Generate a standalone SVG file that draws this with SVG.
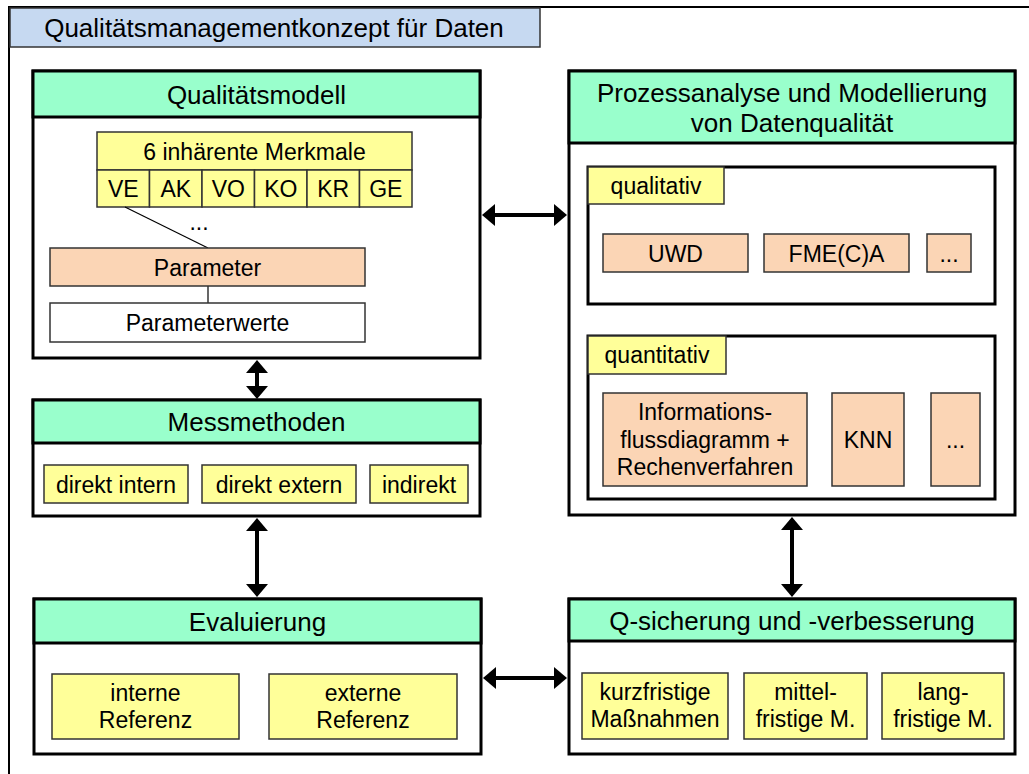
<svg xmlns="http://www.w3.org/2000/svg" width="1029" height="774" viewBox="0 0 1029 774">
<defs>
<style>
text{font-family:"Liberation Sans",Arial,sans-serif;fill:#000;text-anchor:middle}
.h{font-size:26px}
.t{font-size:23px}
.big{fill:#fff;stroke:#000;stroke-width:3}
.hdr{fill:#99FFCC;stroke:#000;stroke-width:3}
.y{fill:#FFFF99;stroke:#333;stroke-width:1.5}
.p{fill:#FBD5B5;stroke:#333;stroke-width:1.5}
.w{fill:#fff;stroke:#333;stroke-width:1.5}
.grp{fill:#fff;stroke:#000;stroke-width:3}
.thin{stroke:#000;stroke-width:1.2;fill:none}
.arr{stroke:#000;stroke-width:4;fill:none;marker-start:url(#ah);marker-end:url(#ah)}
</style>
<marker id="ah" markerUnits="userSpaceOnUse" markerWidth="13" markerHeight="22" refX="0" refY="11" orient="auto-start-reverse" viewBox="0 0 13 22">
<path d="M0,0 L13,11 L0,22 Z" fill="#000"/>
</marker>
</defs>
<rect x="0" y="0" width="1029" height="774" fill="#fff"/>
<g id="frame">
<rect x="9" y="7" width="1040" height="790" fill="none" stroke="#000" stroke-width="2"/>
<rect x="10" y="8" width="530" height="39" fill="#C6D9F1" stroke="#333" stroke-width="1.5"/>
<text class="h" x="274" y="36.5">Qualitätsmanagementkonzept für Daten</text>
</g>
<g id="qualitaetsmodell">
<rect class="big" x="33" y="71" width="447" height="287"/>
<rect class="hdr" x="33" y="71" width="447" height="46"/>
<text class="h" x="256.5" y="103.5">Qualitätsmodell</text>
<rect class="y" x="97" y="132" width="315" height="38"/>
<text class="t" x="254.5" y="159.5">6 inhärente Merkmale</text>
<rect class="y" x="97" y="170" width="52.5" height="37"/>
<rect class="y" x="149.5" y="170" width="52.5" height="37"/>
<rect class="y" x="202" y="170" width="52.5" height="37"/>
<rect class="y" x="254.5" y="170" width="52.5" height="37"/>
<rect class="y" x="307" y="170" width="52.5" height="37"/>
<rect class="y" x="359.5" y="170" width="52.5" height="37"/>
<text class="t" x="123.25" y="196.5">VE</text>
<text class="t" x="175.75" y="196.5">AK</text>
<text class="t" x="228.25" y="196.5">VO</text>
<text class="t" x="280.75" y="196.5">KO</text>
<text class="t" x="333.25" y="196.5">KR</text>
<text class="t" x="385.75" y="196.5">GE</text>
<line class="thin" x1="125" y1="207" x2="208" y2="248"/>
<text class="t" x="199" y="230">...</text>
<line class="thin" x1="208" y1="286" x2="208" y2="303"/>
<rect class="p" x="50" y="248" width="315" height="38"/>
<text class="t" x="207.5" y="275.5">Parameter</text>
<rect class="w" x="50" y="303" width="315" height="39"/>
<text class="t" x="207.5" y="331">Parameterwerte</text>
</g>
<g id="messmethoden">
<rect class="big" x="33" y="400" width="447" height="116"/>
<rect class="hdr" x="33" y="400" width="447" height="43"/>
<text class="h" x="256.5" y="430.5">Messmethoden</text>
<rect class="y" x="44" y="465" width="144" height="38"/>
<text class="t" x="116" y="492.5">direkt intern</text>
<rect class="y" x="202" y="465" width="154" height="38"/>
<text class="t" x="279" y="492.5">direkt extern</text>
<rect class="y" x="370" y="465" width="98" height="38"/>
<text class="t" x="419" y="492.5">indirekt</text>
</g>
<g id="evaluierung">
<rect class="big" x="34" y="599" width="447" height="155"/>
<rect class="hdr" x="34" y="599" width="447" height="44"/>
<text class="h" x="257.5" y="630.5">Evaluierung</text>
<rect class="y" x="52" y="674" width="187" height="65"/>
<text class="t" x="145.5" y="701">interne</text>
<text class="t" x="145.5" y="728">Referenz</text>
<rect class="y" x="269" y="674" width="188" height="65"/>
<text class="t" x="363" y="701">externe</text>
<text class="t" x="363" y="728">Referenz</text>
</g>
<g id="prozessanalyse">
<rect class="big" x="569" y="71" width="446" height="444"/>
<rect class="hdr" x="569" y="71" width="446" height="72"/>
<text class="h" x="792" y="102">Prozessanalyse und Modellierung</text>
<text class="h" x="792" y="131.5">von Datenqualität</text>
<rect class="grp" x="588" y="167" width="407" height="137"/>
<rect class="y" x="588" y="167" width="136" height="37"/>
<text class="t" x="656" y="193.5">qualitativ</text>
<rect class="p" x="603" y="234" width="145" height="38"/>
<text class="t" x="675.5" y="261.5">UWD</text>
<rect class="p" x="764" y="234" width="145" height="38"/>
<text class="t" x="836.5" y="261.5">FME(C)A</text>
<rect class="p" x="927" y="234" width="44" height="38"/>
<text class="t" x="949" y="261.5">...</text>
<rect class="grp" x="588" y="336" width="407" height="163"/>
<rect class="y" x="588" y="336" width="138" height="38"/>
<text class="t" x="657" y="363">quantitativ</text>
<rect class="p" x="603" y="393" width="204" height="93"/>
<text class="t" x="705" y="420">Informations-</text>
<text class="t" x="705" y="447.5">flussdiagramm +</text>
<text class="t" x="705" y="475">Rechenverfahren</text>
<rect class="p" x="832" y="393" width="72" height="93"/>
<text class="t" x="868" y="447.5">KNN</text>
<rect class="p" x="931" y="393" width="49" height="93"/>
<text class="t" x="955.5" y="447.5">...</text>
</g>
<g id="qsicherung">
<rect class="big" x="569" y="599" width="446" height="155"/>
<rect class="hdr" x="569" y="599" width="446" height="42"/>
<text class="h" x="792" y="629.5">Q-sicherung und -verbesserung</text>
<rect class="y" x="582" y="673" width="146" height="66"/>
<text class="t" x="655" y="700">kurzfristige</text>
<text class="t" x="655" y="727">Maßnahmen</text>
<rect class="y" x="744" y="673" width="123" height="66"/>
<text class="t" x="805.5" y="700">mittel-</text>
<text class="t" x="805.5" y="727">fristige M.</text>
<rect class="y" x="882" y="673" width="122" height="66"/>
<text class="t" x="943" y="700">lang-</text>
<text class="t" x="943" y="727">fristige M.</text>
</g>
<g id="connectors">
<line class="arr" x1="257" y1="373" x2="257" y2="386"/>
<line class="arr" x1="257" y1="531" x2="257" y2="584"/>
<line class="arr" x1="495" y1="215" x2="554" y2="215"/>
<line class="arr" x1="792" y1="530" x2="792" y2="584"/>
<line class="arr" x1="496" y1="678" x2="554" y2="678"/>
</g>
</svg>
